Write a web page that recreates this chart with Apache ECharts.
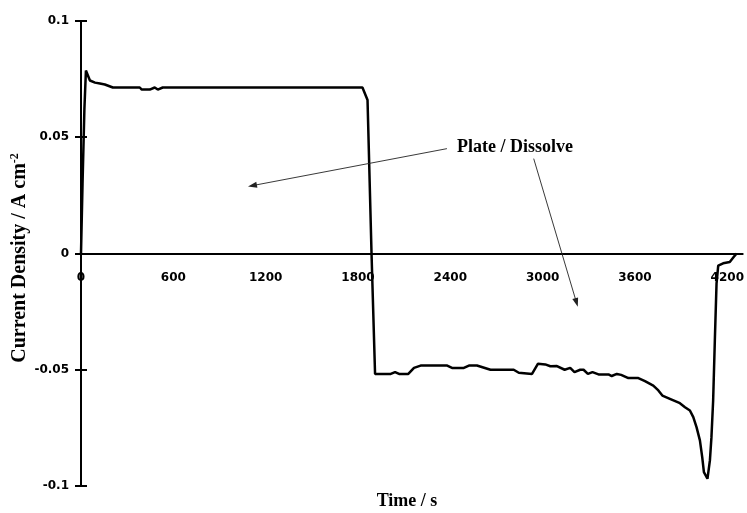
<!DOCTYPE html>
<html>
<head>
<meta charset="utf-8">
<script src="https://cdn.jsdelivr.net/npm/echarts@6/dist/echarts.min.js"></script>
<style>html,body{margin:0;padding:0;background:#fff;}#c{width:747px;height:513px;}</style>
</head>
<body>
<div id="c"></div>
<script>
const timeS = [0,10,22,32,58,91,123,155,207,382,395,447,479,499,531,1829,1862,1888,1911,2013,2041,2067,2127,2164,2207,2380,2411,2488,2521,2573,2661,2812,2845,2931,2970,3017,3050,3093,3143,3179,3207,3244,3266,3294,3324,3363,3428,3449,3482,3510,3557,3622,3665,3719,3752,3778,3827,3892,3925,3957,3979,4000,4022,4037,4048,4071,4087,4097,4108,4119,4130,4141,4173,4216,4249,4260];
const currentDensity = [0,0.03,0.062,0.0787,0.0744,0.0735,0.0731,0.0727,0.0714,0.0714,0.0705,0.0705,0.0714,0.0705,0.0714,0.0714,0.066,0,-0.0518,-0.0518,-0.051,-0.0518,-0.0518,-0.0492,-0.0482,-0.0482,-0.0492,-0.0492,-0.0482,-0.0482,-0.05,-0.05,-0.0513,-0.0518,-0.0474,-0.0477,-0.0485,-0.0484,-0.05,-0.0492,-0.051,-0.05,-0.05,-0.0518,-0.051,-0.052,-0.052,-0.0527,-0.0518,-0.0522,-0.0536,-0.0536,-0.0549,-0.0568,-0.0589,-0.0611,-0.0625,-0.0644,-0.0661,-0.0675,-0.0704,-0.0747,-0.0804,-0.0876,-0.094,-0.0969,-0.089,-0.079,-0.0632,-0.0374,-0.013,-0.0052,-0.0042,-0.0037,-0.0009,0];
const xTickLabels = ['0','600','1200','1800','2400','3000','3600','4200'];
const yTickLabels = ['-0.1','-0.05','0','0.05','0.1'];
const annotationText = 'Plate / Dissolve';
const arrow1 = [[2378,0.0451],[1114,0.0292]];
const arrow2 = [[2942,0.0408],[3220,-0.0211]];

const chart = echarts.init(document.getElementById('c'), null, {renderer:'canvas'});
const seriesData = timeS.map((t,i)=>[t,currentDensity[i]]);
const tickFont = {fontFamily:'DejaVu Sans', fontSize:12, fontWeight:'bold', color:'#000'};
const serif = 'Liberation Serif';
const gridTop = 21, gridBottom = 27, H = 513;
const zeroOffset = -((H - gridTop - gridBottom) / 2);
chart.setOption({
  animation:false,
  backgroundColor:'#fff',
  grid:{left:81, right:2, top:gridTop, bottom:gridBottom, containLabel:false},
  xAxis:{
    type:'value', min:0, max:4300, interval:600, position:'bottom', offset:zeroOffset,
    axisLine:{show:true, onZero:false, lineStyle:{color:'#000', width:2}},
    axisTick:{show:false},
    splitLine:{show:false},
    axisLabel:Object.assign({margin:18, showMaxLabel:false, formatter:v=>{const s=String(v);return xTickLabels.indexOf(s)>=0?s:'';}}, tickFont)
  },
  yAxis:[{
    type:'value', min:-0.1, max:0.1, interval:0.05,
    axisLine:{show:true, onZero:false, lineStyle:{color:'#000', width:2}},
    axisTick:{show:true, inside:false, length:6, lineStyle:{color:'#000', width:2}},
    splitLine:{show:false},
    axisLabel:Object.assign({margin:12, formatter:v=>{const s=String(Math.round(v*100)/100);return yTickLabels.indexOf(s)>=0?s:'';}}, tickFont)
  },{
    type:'value', min:-0.1, max:0.1, interval:0.05, position:'left',
    axisLine:{show:false, onZero:false},
    axisTick:{show:true, inside:true, length:6, lineStyle:{color:'#000', width:2}},
    splitLine:{show:false},
    axisLabel:{show:false}
  }],
  series:[{
    type:'line', data:seriesData, showSymbol:false, symbol:'none',
    lineStyle:{color:'#000', width:2.5}, clip:false,
    markLine:{
      silent:true, animation:false,
      label:{show:false},
      lineStyle:{color:'#222', width:0.9, type:'solid'},
      data:[
        [{coord:arrow1[0], symbol:'none'},{coord:arrow1[1], symbol:'triangle', symbolSize:[6,9]}],
        [{coord:arrow2[0], symbol:'none'},{coord:arrow2[1], symbol:'triangle', symbolSize:[6,9]}]
      ]
    }
  }],
  graphic:[
    {type:'text', x:457, y:147, style:{text:annotationText, font:'bold 18px "'+serif+'"', fill:'#000', align:'left', verticalAlign:'middle'}},
    {type:'text', x:407, y:501, style:{text:'Time / s', font:'bold 18px "'+serif+'"', fill:'#000', align:'center', verticalAlign:'middle'}},
    {type:'text', x:20, y:258, rotation:Math.PI/2, style:{
      text:'Current Density / A cm{sup|-2}',
      font:'bold 20px "'+serif+'"', fill:'#000', align:'center', verticalAlign:'middle',
      rich:{sup:{fontFamily:serif, fontWeight:'bold', fontSize:12, verticalAlign:'top', padding:[0,0,10,0]}}
    }}
  ]
});
</script>
</body>
</html>
